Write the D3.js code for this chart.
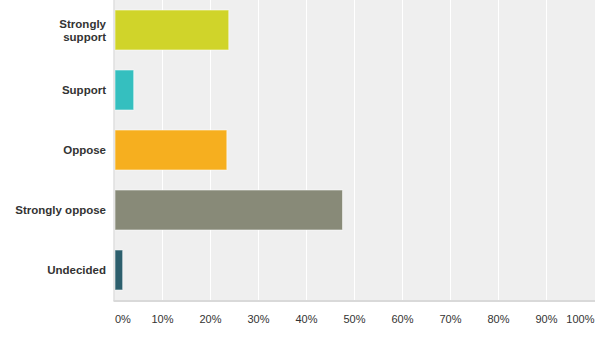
<!DOCTYPE html>
<html>
<head>
<meta charset="utf-8">
<script src="https://cdn.jsdelivr.net/npm/d3@7"></script>
<style>
  body { margin: 0; background: #fff; }
  svg { display: block; font-family: "Liberation Sans", Arial, sans-serif; }
</style>
</head>
<body>
<script>
// answer categories and percent of responses
var categories = ["Strongly support", "Support", "Oppose", "Strongly oppose", "Undecided"];
var percents = [23.7, 3.9, 23.3, 47.4, 1.6];
var barColors = ["#d0d42a", "#35bfbf", "#f6af1f", "#888a78", "#2d5f6d"];
var tickValues = [0, 10, 20, 30, 40, 50, 60, 70, 80, 90, 100];

var width = 595;
var height = 351;
var margin = { top: 0, right: 0.5, bottom: 50, left: 114.5 };
var plotW = width - margin.left - margin.right;
var plotH = 300;

var svg = d3.select('body').append('svg')
    .attr('width', width)
    .attr('height', height);

var x = d3.scaleLinear().domain([0, 100]).range([0, plotW]);
var y = d3.scaleBand().domain(categories).range([0, plotH]).paddingInner(1 / 3).paddingOuter(1 / 6);

var g = svg.append('g').attr('transform', 'translate(' + margin.left + ',' + margin.top + ')');

// grey plot background
g.append('rect')
  .attr('x', 0).attr('y', 0)
  .attr('width', plotW + 1).attr('height', plotH)
  .attr('fill', '#efefef');

// white vertical gridlines
g.selectAll('line.grid')
  .data(tickValues.slice(1, -1))
  .enter().append('line')
  .attr('class', 'grid')
  .attr('x1', function(d) { return x(d); })
  .attr('x2', function(d) { return x(d); })
  .attr('y1', 0).attr('y2', plotH)
  .attr('stroke', '#ffffff')
  .attr('stroke-width', 1);

// bars
g.selectAll('rect.bar')
  .data(percents)
  .enter().append('rect')
  .attr('class', 'bar')
  .attr('x', x(0) + 0.5)
  .attr('y', function(d, i) { return y(categories[i]); })
  .attr('width', function(d) { return x(d) - x(0); })
  .attr('height', y.bandwidth())
  .attr('fill', function(d, i) { return barColors[i]; })
  .attr('stroke', 'rgba(255,255,255,0.55)')
  .attr('stroke-width', 1);

// axis lines
g.append('line')
  .attr('x1', -0.5).attr('x2', -0.5)
  .attr('y1', 0).attr('y2', plotH + 1)
  .attr('stroke', '#cfcfcf');
g.append('line')
  .attr('x1', -1).attr('x2', plotW + 1)
  .attr('y1', plotH + 1).attr('y2', plotH + 1)
  .attr('stroke', '#d9d9d9')
  .attr('stroke-width', 2);

// x tick labels (first and last kept inside the plot)
g.selectAll('text.tick')
  .data(tickValues)
  .enter().append('text')
  .attr('class', 'tick')
  .attr('x', function(d, i) {
    if (i === 0) return x(d) + 0.5;
    if (i === tickValues.length - 1) return x(d);
    return x(d);
  })
  .attr('y', 323)
  .attr('text-anchor', function(d, i) {
    if (i === 0) return 'start';
    if (i === tickValues.length - 1) return 'end';
    return 'middle';
  })
  .attr('font-size', '11px')
  .attr('fill', '#333')
  .text(function(d) { return d + '%'; });

// category labels, wrapped the way the original does
var labelLines = categories.map(function(c) {
  return c === "Strongly support" ? ["Strongly", "support"] : [c];
});

var labels = svg.selectAll('text.cat')
  .data(categories)
  .enter().append('text')
  .attr('class', 'cat')
  .attr('text-anchor', 'end')
  .attr('font-size', '11.5px')
  .attr('font-weight', 'bold')
  .attr('fill', '#333');

labels.each(function(c, i) {
  var lines = labelLines[i];
  var cy = margin.top + y(c) + y.bandwidth() / 2;
  var lh = 13;
  var t = d3.select(this);
  lines.forEach(function(line, j) {
    t.append('tspan')
      .attr('x', 106)
      .attr('y', cy + (j - (lines.length - 1) / 2) * lh + 4)
      .text(line);
  });
});
</script>
</body>
</html>
